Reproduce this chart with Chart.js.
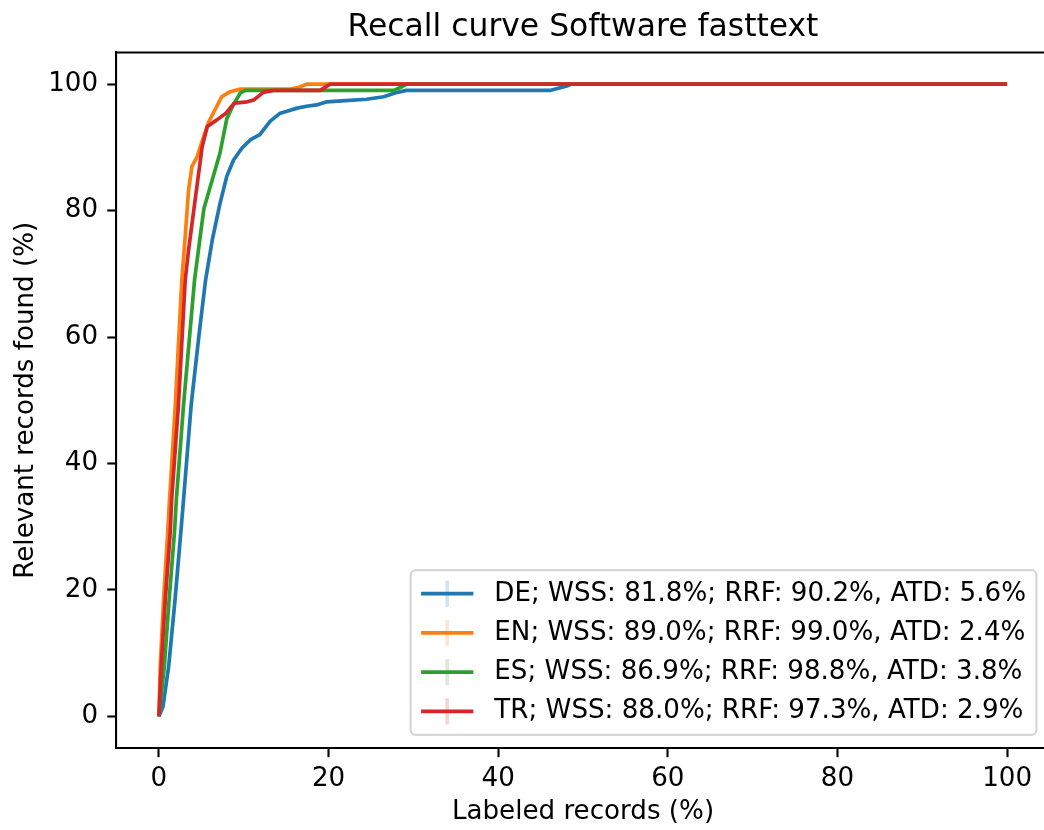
<!DOCTYPE html>
<html><head><meta charset="utf-8">
<script src="https://cdn.jsdelivr.net/npm/chart.js@4.4.0/dist/chart.umd.min.js"></script>
<style>html,body{margin:0;padding:0;background:#fff;overflow:hidden;width:1044px;height:830px}canvas{display:block}</style>
</head><body>
<canvas id="c" width="1050" height="830" style="width:1050px;height:830px"></canvas>
<script>
const chartTitle = 'Recall curve Software fasttext';
const xTitle = 'Labeled records (%)';
const yTitle = 'Relevant records found (%)';
const xTicks = [0, 20, 40, 60, 80, 100];
const yTicks = [0, 20, 40, 60, 80, 100];
const seriesNames = [
  'DE; WSS: 81.8%; RRF: 90.2%, ATD: 5.6%',
  'EN; WSS: 89.0%; RRF: 99.0%, ATD: 2.4%',
  'ES; WSS: 86.9%; RRF: 98.8%, ATD: 3.8%',
  'TR; WSS: 88.0%; RRF: 97.3%, ATD: 2.9%'
];
const seriesColors = ['#1f77b4', '#ff7f0e', '#2ca02c', '#d62728'];

const deX = [0, 0.47, 1.14, 1.9, 2.6, 2.9, 3.8, 4.7, 5.5, 6.3, 7.2, 8.0, 8.8, 9.8, 10.8, 11.9, 13.1, 14.3, 15.1, 16.3, 17.4, 18.6, 19.8, 22.0, 24.5, 26.5, 28.1, 29.2, 46.1, 48.1, 48.6, 100];
const deY = [0, 1.5, 7.8, 18.4, 29.4, 34.2, 49.2, 60, 69, 75.4, 81.1, 85.4, 88, 89.9, 91.2, 92, 94.1, 95.4, 95.7, 96.2, 96.5, 96.7, 97.2, 97.4, 97.6, 98, 98.7, 99, 99, 99.7, 100, 100];
const enX = [0, 0.15, 0.55, 1.05, 1.25, 1.93, 2.7, 3.1, 3.5, 3.9, 4.5, 5.0, 5.9, 6.6, 7.4, 8.4, 9.6, 15.5, 16.5, 17.5, 100];
const enY = [0, 7.8, 18.4, 29.4, 34.2, 49.2, 69, 75.9, 83.3, 87, 88.5, 90.6, 94.1, 95.9, 98, 98.8, 99.2, 99.2, 99.5, 100, 100];
const esX = [0, 0.63, 1.2, 1.85, 2.05, 2.9, 4.2, 5.3, 6.3, 7.2, 8.0, 8.8, 9.6, 10.2, 27.7, 28.5, 29.2, 100];
const esY = [0, 7.8, 18.4, 29.4, 34.2, 49.2, 69, 80.3, 84.9, 89.1, 94.5, 96.8, 98.6, 99, 99, 99.5, 100, 100];
const trX = [0, 0.27, 0.75, 1.35, 1.5, 2.3, 3.1, 3.5, 4.3, 5.1, 5.7, 6.8, 7.9, 8.9, 10.4, 11.2, 12.3, 13.5, 19.0, 20.2, 100];
const trY = [0, 7.8, 18.4, 29.4, 34.2, 49.2, 69, 73.8, 82, 90.1, 93.3, 94.3, 95.4, 97, 97.2, 97.5, 98.7, 99, 99, 100, 100];

const FS = 26.15;          // 10pt at ~188 dpi
const TITLE_FS = 31.4;     // 12pt
const LW = 3.7;
const AXW = 2.1;

Chart.defaults.font.family = "'DejaVu Sans', sans-serif";
Chart.defaults.color = '#000';

const seriesXY = [[deX, deY], [enX, enY], [esX, esY], [trX, trY]];
const datasets = seriesXY.map((s, i) => ({
  label: seriesNames[i],
  data: s[0].map((x, j) => ({x: x, y: s[1][j]})),
  borderColor: seriesColors[i],
  backgroundColor: seriesColors[i],
  borderWidth: LW,
  pointRadius: 0,
  pointHoverRadius: 0,
  tension: 0,
  fill: false,
  borderJoinStyle: 'round',
  order: seriesXY.length - i
}));

let frame = null;
const mplLegend = {
  id: 'mplLegend',
  afterLayout(chart) {
    const lg = chart.legend, ca = chart.chartArea, ctx = chart.ctx;
    ctx.save();
    ctx.font = FS + "px 'DejaVu Sans'";
    const tw = Math.max(...seriesNames.map(t => ctx.measureText(t).width));
    ctx.restore();
    const bp = 0.4 * FS, ls = 0.5 * FS, hl = 2 * FS, htp = 0.8 * FS, bap = 0.5 * FS;
    const fw = 2 * bp + hl + htp + tw;
    const fh = 2 * bp + seriesNames.length * FS + (seriesNames.length - 1) * ls;
    const fr = ca.right - bap, fb = ca.bottom - bap;
    frame = {left: fr - fw, top: fb - fh, right: fr, bottom: fb, bp: bp, ls: ls, hl: hl};
    lg.left = frame.left + bp - ls;
    lg.top = frame.top + bp - ls;
    lg.right = frame.right + 20;
    lg.bottom = frame.bottom + 40;
    lg.width = lg.right - lg.left;
    lg.height = lg.bottom - lg.top;
  },
  beforeDraw(chart) {
    if (!frame) return;
    const ctx = chart.ctx;
    ctx.save();
    const r = 0.2 * FS * 0.4 + 3;
    ctx.beginPath();
    ctx.roundRect(frame.left, frame.top, frame.right - frame.left, frame.bottom - frame.top, r);
    ctx.fillStyle = 'rgba(255,255,255,0.8)';
    ctx.fill();
    ctx.lineWidth = 2.2;
    ctx.strokeStyle = 'rgba(204,204,204,0.8)';
    ctx.stroke();
    ctx.restore();
  },
  afterDraw(chart) {
    const ctx = chart.ctx, ca = chart.chartArea;
    ctx.save();
    // top spine
    ctx.strokeStyle = '#000';
    ctx.lineWidth = AXW;
    ctx.beginPath();
    ctx.moveTo(ca.left - AXW / 2, ca.top);
    ctx.lineTo(ca.right + AXW / 2, ca.top);
    ctx.stroke();
    // legend handles
    if (frame) {
      seriesNames.forEach((n, i) => {
        const y = frame.top + frame.bp + i * (FS + frame.ls) + FS / 2;
        const x0 = frame.left + frame.bp;
        ctx.globalAlpha = 0.2;
        ctx.strokeStyle = seriesColors[i];
        ctx.lineWidth = LW;
        ctx.beginPath();
        ctx.moveTo(x0 + frame.hl / 2, y - FS / 2);
        ctx.lineTo(x0 + frame.hl / 2, y + FS / 2);
        ctx.stroke();
        ctx.globalAlpha = 1;
        ctx.beginPath();
        ctx.moveTo(x0, y);
        ctx.lineTo(x0 + frame.hl, y);
        ctx.stroke();
      });
    }
    ctx.restore();
  }
};

new Chart(document.getElementById('c'), {
  type: 'line',
  data: {datasets: datasets},
  plugins: [mplLegend],
  options: {
    responsive: false,
    animation: false,
    devicePixelRatio: 1,
    layout: {padding: {left: 0, right: 0.5, top: 0, bottom: 0}},
    plugins: {
      tooltip: {enabled: false},
      title: {
        display: true, text: chartTitle, fullSize: false, color: '#000',
        font: {size: TITLE_FS, weight: 'normal'},
        padding: {top: 9.5, bottom: 5.3}
      },
      legend: {
        display: true, position: 'chartArea', align: 'start',
        labels: {
          font: {size: FS}, color: '#000', padding: 0.5 * FS,
          boxWidth: 2.3 * FS, boxHeight: 4, textAlign: 'left',
          generateLabels: (chart) => chart.data.datasets.map((d, i) => ({
            text: d.label, fillStyle: 'rgba(0,0,0,0)', strokeStyle: 'rgba(0,0,0,0)',
            lineWidth: 0, hidden: false, datasetIndex: i, fontColor: '#000'
          }))
        }
      }
    },
    scales: {
      x: {
        type: 'linear', position: 'bottom', min: -5, max: 105,
        afterBuildTicks: (a) => { a.ticks = xTicks.map(v => ({value: v})); },
        afterFit: (a) => { a.height = 82; },
        ticks: {font: {size: FS}, color: '#000', padding: 6.8, maxRotation: 0, autoSkip: false},
        grid: {display: true, drawOnChartArea: false, drawTicks: true, tickLength: 9.2, tickWidth: AXW, tickColor: '#000'},
        border: {display: true, color: '#000', width: AXW},
        title: {display: true, text: xTitle, color: '#000', font: {size: FS}, padding: {top: 0, bottom: 2.5}}
      },
      y: {
        type: 'linear', position: 'left', min: -5, max: 105,
        afterBuildTicks: (a) => { a.ticks = yTicks.map(v => ({value: v})); },
        afterFit: (a) => { a.width = 116.5; },
        ticks: {font: {size: FS}, color: '#000', padding: 9.2, autoSkip: false},
        grid: {display: true, drawOnChartArea: false, drawTicks: true, tickLength: 9.2, tickWidth: AXW, tickColor: '#000'},
        border: {display: true, color: '#000', width: AXW},
        title: {display: true, text: yTitle, color: '#000', font: {size: FS}, padding: {top: 11, bottom: 0}}
      }
    }
  }
});
</script>
</body></html>
